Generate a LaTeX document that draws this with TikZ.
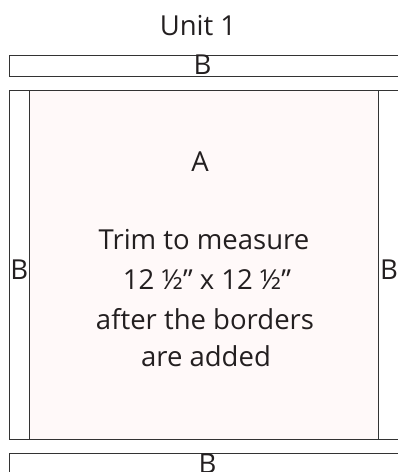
\documentclass[tikz,border=0pt]{standalone}
\usepackage{fontspec}
\setmainfont{Open Sans}
\definecolor{pinkfill}{RGB}{255,249,249}
\definecolor{edge}{RGB}{51,51,51}
\definecolor{txt}{RGB}{35,31,32}
\begin{document}
\begin{tikzpicture}[x=1pt,y=1pt,
  strip/.style={draw=edge,line width=0.9pt},
  lbl/.style={inner sep=0pt,anchor=base,text=txt,font=\fontsize{27.5}{33}\selectfont}]
\useasboundingbox (0,0) rectangle (398,472);
\clip (0,0) rectangle (398,472);
% top strip
\draw[strip] (9,395.3) rectangle (410,416.3);
% main block
\draw[strip,fill=pinkfill] (29.7,32.7) rectangle (378.3,381.3);
\draw[strip] (9,32.7) rectangle (29.7,381.3);
\draw[strip] (378.3,32.7) rectangle (410,381.3);
% bottom strip
\draw[strip] (9,-20) rectangle (410,18.7);
% labels
\node[lbl] (title) at (198,436) {Unit 1};
\node[lbl] (btop) at (202.5,397) {B};
\node[lbl] (a) at (200,300.3) {A};
\node[lbl] (l1) at (204,222) {Trim to measure};
\node[lbl] (l2) at (207,182) {12 ½” x 12 ½”};
\node[lbl] (l3) at (205,142) {after the borders};
\node[lbl] (l4) at (206,105) {are added};
\node[lbl] (bleft) at (19.2,192.7) {B};
\node[lbl] (bright) at (389,192.7) {B};
\node[lbl] (bbot) at (207.5,-1.4) {B};
\end{tikzpicture}
\end{document}
